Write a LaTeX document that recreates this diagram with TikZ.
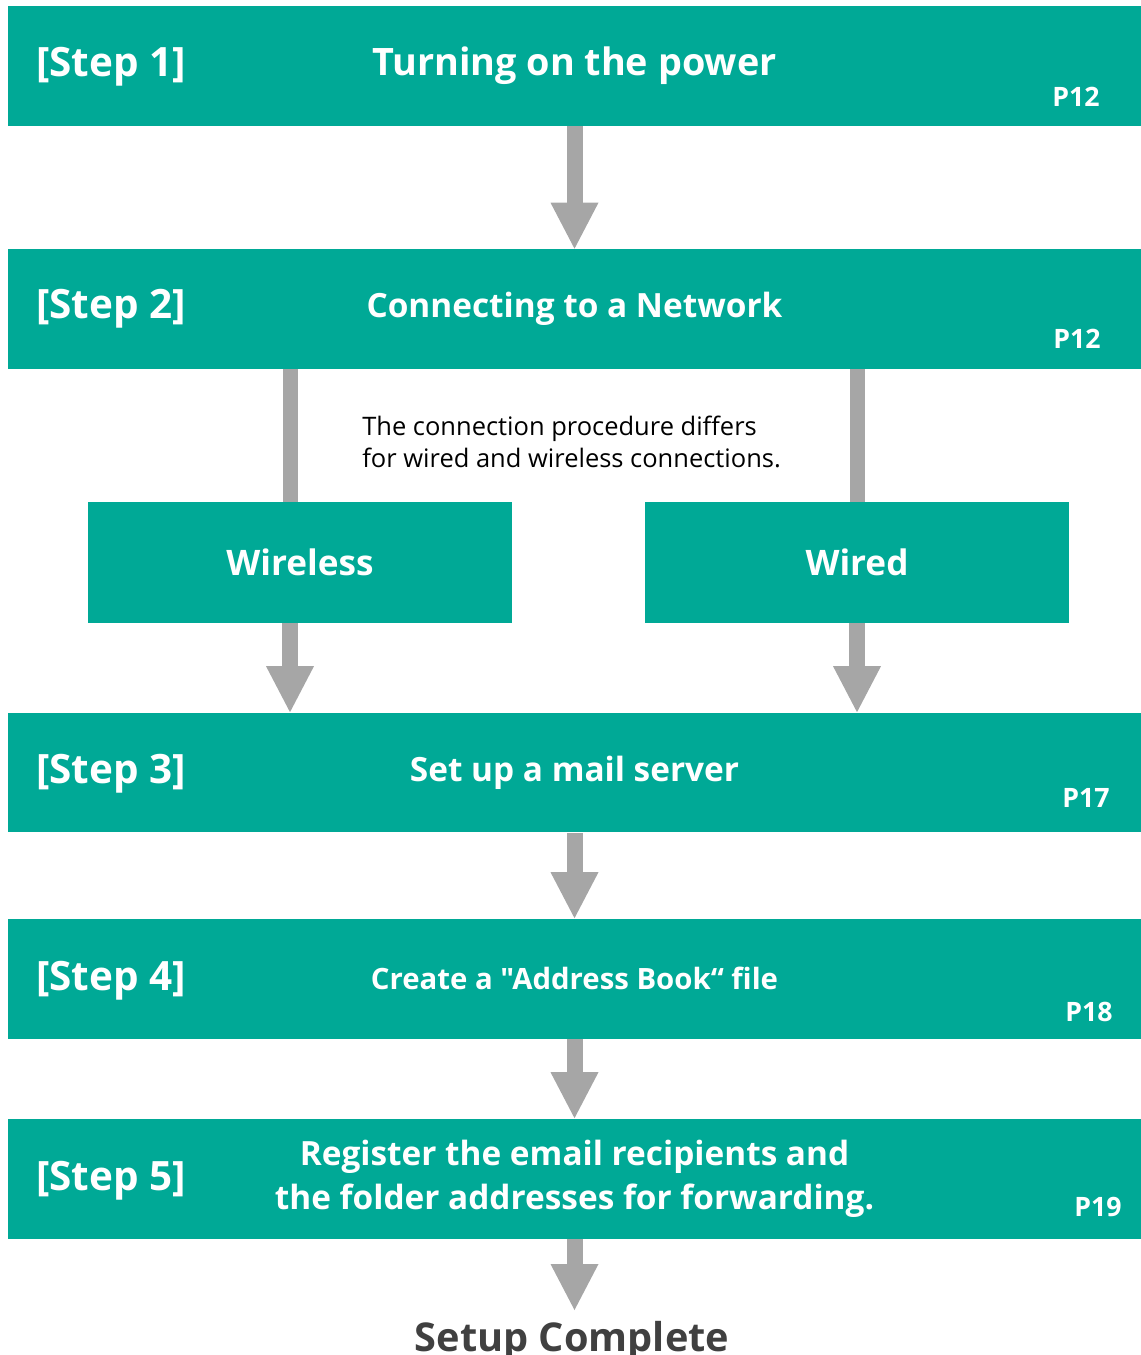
\documentclass[tikz,border=0pt]{standalone}
\usepackage{fontspec}
\setmainfont{Open Sans}
\usetikzlibrary{arrows.meta, positioning, calc}
\definecolor{setup_teal}{HTML}{00A996}
\colorlet{stepteal}{setup_teal}
\definecolor{flowgray}{HTML}{A6A6A6}
\definecolor{donegray}{HTML}{404040}
\tikzset{
  stepbar/.style={rectangle,fill=stepteal,minimum width=22.66cm,minimum height=2.4cm,inner sep=0pt,
    text=white,align=center,font=\bfseries\fontsize{19}{25}\selectfont},
  branch/.style={rectangle,fill=stepteal,minimum width=8.48cm,minimum height=2.42cm,inner sep=0pt,
    text=white,font=\bfseries\fontsize{20}{23}\selectfont},
  steplabel/.style={anchor=west,text=white,inner sep=0pt,font=\bfseries\fontsize{23}{26}\selectfont},
  pagelabel/.style={anchor=east,text=white,inner sep=0pt,font=\bfseries\fontsize{15.2}{17}\selectfont},
  note/.style={anchor=west,align=left,inner sep=0pt,font=\fontsize{14.5}{18.7}\selectfont},
  flow/.style={draw=flowgray,line width=0.32cm,-{Triangle[width=0.96cm,length=0.92cm,line width=0pt]}},
  flowline/.style={draw=flowgray,line width=0.3cm},
}

\begin{document}
\begin{tikzpicture}[x=0.02cm,y=-0.02cm]
	\useasboundingbox (0,0) rectangle (1141,1355);
	\node[stepbar,font=\bfseries\fontsize{21.5}{26}\selectfont] (s1) at (574.5,66) {Turning on the power};
	\node[stepbar] (s2) at (574.5,309) {Connecting to a Network};
	\node[branch] (wless) at (300,562.5) {Wireless};
	\node[branch] (wired) at (857,562.5) {Wired};
	\node[stepbar] (s3) at (574.5,772.5) {Set up a mail server};
	\node[stepbar,font=\bfseries\fontsize{16.7}{20}\selectfont\addfontfeatures{Ligatures=TeXOff}] (s4) at (574.5,978.5) {Create a "Address Book“ file};
	\node[stepbar] (s5) at (574.5,1178.5) {Register the email recipients and\\the folder addresses for forwarding.};
	\node[font=\bfseries\fontsize{22.6}{28}\selectfont,text=donegray] (done) at (572,1341) {Setup Complete};
	\coordinate (donetop) at (572,1310);

	\node[steplabel,right=0.56cm of s1.west,yshift=-0.02cm] (l1) {[Step 1]};
	\node[steplabel,right=0.56cm of s2.west] (l2) {[Step 2]};
	\node[steplabel,right=0.56cm of s3.west,yshift=-0.02cm] (l3) {[Step 3]};
	\node[steplabel,right=0.56cm of s4.west,yshift=-0.04cm] (l4) {[Step 4]};
	\node[steplabel,right=0.56cm of s5.west,yshift=-0.04cm] (l5) {[Step 5]};

	\node[pagelabel] (p1) at (1100,97) {P12};
	\node[pagelabel] (p2) at (1101,339) {P12};
	\node[pagelabel] (p3) at (1110,798) {P17};
	\node[pagelabel] (p4) at (1113,1012) {P18};
	\node[pagelabel] (p5) at (1122,1207) {P19};

	\node[note] (n) at (362,442) {The connection procedure differs\\for wired and wireless connections.};

	\draw[flow] (s1) -- (s2);
	\draw[flowline] ($(wless.north |- s2.south)+(-10,0)$) -- ($(wless.north)+(-10,0)$);
	\draw[flowline] (wired.north |- s2.south) -- (wired.north);
	\draw[flow] ($(wless.south)+(-10,0)$) -- ($(wless.south |- s3.north)+(-10,0)$);
	\draw[flow] (wired.south) -- (wired.south |- s3.north);
	\draw[flow] (s3) -- (s4);
	\draw[flow] (s4) -- (s5);
	\draw[flow] (s5.south) -- (s5.south |- donetop);
\end{tikzpicture}
\end{document}
